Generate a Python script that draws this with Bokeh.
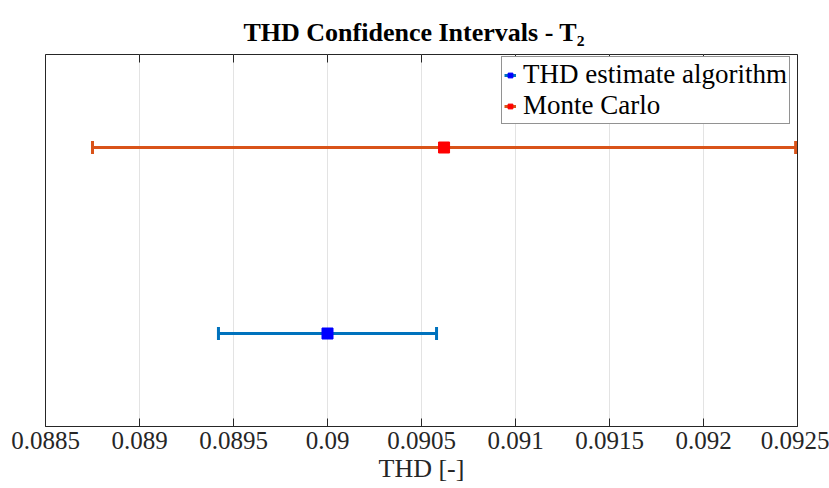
import math
from bokeh.plotting import figure
from bokeh.models import (ColumnDataSource, Whisker, TeeHead, Legend, LegendItem,
                          FixedTicker, NumeralTickFormatter)
from bokeh.embed import file_html
from bokeh.resources import INLINE

# Confidence intervals of the THD for test case T2
methods = ["THD estimate algorithm", "Monte Carlo"]
positions = [1, 2]
thd_mean = [0.09000, 0.09062]
thd_lower = [0.08942, 0.08875]
thd_upper = [0.09058, 0.09249]
line_colors = ["#0072BD", "#D95319"]
marker_colors = ["#0000FF", "#FF0000"]

tick_values = [0.0885, 0.089, 0.0895, 0.09, 0.0905, 0.091, 0.0915, 0.092, 0.0925]
tick_labels = ["0.0885", "0.089", "0.0895", "0.09", "0.0905", "0.091", "0.0915", "0.092", "0.0925"]

FONT = "Liberation Serif"
INK = "#262626"

p = figure(width=829, height=488, x_range=(0.0885, 0.0925), y_range=(0.5, 2.5),
           output_backend="svg", toolbar_location=None,
           min_border_left=45, min_border_right=32, min_border_top=54, min_border_bottom=62)
p.background_fill_color = "white"
p.border_fill_color = "white"
p.outline_line_color = INK
p.outline_line_width = 1
p.outline_line_alpha = 1.0

p.title.text = "THD Confidence Intervals - T\u2082"
p.title.align = "left"
p.title.offset = 198
p.title.text_font = FONT
p.title.text_font_size = "26px"
p.title.text_font_style = "bold"
p.title.text_color = "black"
p.title.standoff = 16

# axes
p.yaxis.visible = False
p.ygrid.visible = False
xa = p.xaxis[0]
xa.ticker = FixedTicker(ticks=tick_values)
xa.formatter = NumeralTickFormatter(format="0.0[000]")
xa.major_label_overrides = {v: s for v, s in zip(tick_values, tick_labels)}
xa.major_tick_in = 8
xa.major_tick_out = 0
xa.minor_tick_line_color = None
xa.axis_line_color = INK
xa.major_tick_line_color = INK
xa.major_label_text_font = FONT
xa.major_label_text_font_size = "25px"
xa.major_label_text_color = INK
xa.major_label_standoff = 5
xa.axis_label = "THD [-]"
xa.axis_label_text_font = FONT
xa.axis_label_text_font_size = "26px"
xa.axis_label_text_font_style = "normal"
xa.axis_label_text_color = INK
xa.axis_label_standoff = 2

p.xgrid.ticker = FixedTicker(ticks=tick_values)
p.xgrid.grid_line_color = "#E3E3E3"
p.xgrid.grid_line_width = 1

# inward tick marks along the top edge of the box (the half outside the frame is clipped)
p.scatter(x=tick_values, y=[p.y_range.end] * len(tick_values), marker="dash",
          angle=math.pi / 2, size=16, line_color=INK, line_width=1)

items = []
for i in range(len(methods)):
    src = ColumnDataSource(dict(y=[positions[i]], lo=[thd_lower[i]], hi=[thd_upper[i]],
                                m=[thd_mean[i]]))
    seg = p.segment(x0="lo", x1="hi", y0="y", y1="y", source=src,
                    line_color=line_colors[i], line_width=3)
    w = Whisker(source=src, base="y", lower="lo", upper="hi", dimension="width",
                line_color=line_colors[i], line_width=3,
                lower_head=TeeHead(size=13, line_color=line_colors[i], line_width=3),
                upper_head=TeeHead(size=13, line_color=line_colors[i], line_width=3))
    p.add_layout(w)
    sc = p.scatter(x="m", y="y", source=src, marker="square", size=11,
                   fill_color=marker_colors[i], line_color=marker_colors[i], line_width=1)
    items.append(LegendItem(label=methods[i], renderers=[seg, sc]))

legend = Legend(items=items, location=(456, 302), orientation="vertical",
                label_text_font=FONT, label_text_font_size="27px", label_text_color="black",
                glyph_width=12, glyph_height=14, label_standoff=7, spacing=0, padding=2,
                label_height=28, border_line_color=INK, border_line_width=1,
                background_fill_color="white", background_fill_alpha=1.0, margin=0)
p.add_layout(legend, "center")

open("out.html", "w").write(file_html(p, INLINE))
